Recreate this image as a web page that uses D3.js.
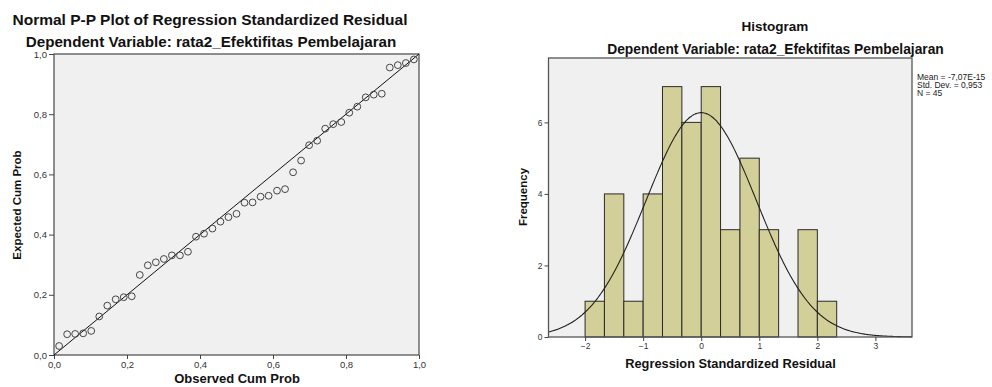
<!DOCTYPE html>
<html>
<head>
<meta charset="utf-8">
<script src="https://cdn.jsdelivr.net/npm/d3@7"></script>
<style>
  html, body { margin: 0; padding: 0; background: #fff; }
  svg { display: block; font-family: "Liberation Sans", Arial, sans-serif; }
  .tick text { fill: #333; }
  .tick line { stroke: #444; }
</style>
</head>
<body>
<svg id="chart" width="992" height="387"></svg>
<script>
// P-P plot: observed vs expected cumulative probability
const observedCumProb = [0.014, 0.036, 0.058, 0.080, 0.102, 0.124, 0.146, 0.169, 0.191, 0.213,
  0.235, 0.257, 0.279, 0.301, 0.323, 0.345, 0.367, 0.389, 0.411, 0.434, 0.456, 0.478, 0.500,
  0.522, 0.544, 0.566, 0.588, 0.611, 0.633, 0.655, 0.677, 0.699, 0.721, 0.743, 0.765, 0.787,
  0.809, 0.831, 0.854, 0.876, 0.898, 0.920, 0.942, 0.964, 0.986];
const expectedCumProb = [0.030, 0.069, 0.070, 0.072, 0.080, 0.128, 0.164, 0.185, 0.192, 0.195,
  0.266, 0.298, 0.308, 0.319, 0.331, 0.331, 0.343, 0.393, 0.403, 0.420, 0.443, 0.458, 0.469,
  0.506, 0.507, 0.526, 0.529, 0.546, 0.551, 0.607, 0.646, 0.697, 0.712, 0.752, 0.767, 0.774,
  0.805, 0.825, 0.856, 0.865, 0.868, 0.955, 0.963, 0.970, 0.982];
const ppTicks = [0, 0.2, 0.4, 0.6, 0.8, 1.0];

// Histogram of standardized residuals
const binLower = [-2.000, -1.667, -1.333, -1.000, -0.667, -0.333, 0.000, 0.333, 0.667, 1.000, 1.333, 1.667, 2.000];
const binUpper = [-1.667, -1.333, -1.000, -0.667, -0.333, 0.000, 0.333, 0.667, 1.000, 1.333, 1.667, 2.000, 2.333];
const binCount = [1, 4, 1, 4, 7, 6, 7, 3, 5, 3, 0, 3, 1];
const histXTicks = [-2, -1, 0, 1, 2, 3];
const histYTicks = [0, 2, 4, 6];
const residMean = -7.07e-15;
const residSD = 0.953;
const residN = 45;
const statLines = ["Mean = -7,07E-15", "Std. Dev. = 0,953", "N = 45"];

const svg = d3.select("#chart");
const comma = f => v => d3.format(f)(v).replace(".", ",");

// ---------- left: P-P plot ----------
const ppX = d3.scaleLinear().domain([0, 1]).range([54, 419]);
const ppY = d3.scaleLinear().domain([0, 1]).range([355, 54]);

svg.append("rect")
  .attr("x", ppX(0)).attr("y", ppY(1))
  .attr("width", ppX(1) - ppX(0)).attr("height", ppY(0) - ppY(1))
  .attr("fill", "#f0f0f0").attr("stroke", "#555").attr("stroke-width", 1.3);

svg.append("g")
  .attr("transform", `translate(0,${ppY(0)})`)
  .call(d3.axisBottom(ppX).tickValues(ppTicks).tickSize(4).tickPadding(2).tickFormat(comma(".1f")))
  .call(g => g.select(".domain").remove())
  .selectAll("text").style("font-size", "9.5px");

svg.append("g")
  .attr("transform", `translate(${ppX(0)},0)`)
  .call(d3.axisLeft(ppY).tickValues(ppTicks).tickSize(5).tickPadding(2).tickFormat(comma(".1f")))
  .call(g => g.select(".domain").remove())
  .selectAll("text").style("font-size", "9.5px");

svg.append("line")
  .attr("x1", ppX(0)).attr("y1", ppY(0))
  .attr("x2", ppX(1)).attr("y2", ppY(1))
  .attr("stroke", "#111").attr("stroke-width", 1);

svg.append("g").selectAll("circle")
  .data(observedCumProb.map((o, i) => [o, expectedCumProb[i]]))
  .join("circle")
  .attr("cx", d => ppX(d[0])).attr("cy", d => ppY(d[1]))
  .attr("r", 3.4)
  .attr("fill", "none").attr("stroke", "#444").attr("stroke-width", 1);

svg.append("text").attr("x", 210).attr("y", 25)
  .attr("text-anchor", "middle").attr("font-weight", "bold").attr("font-size", 15.5)
  .attr("fill", "#111").text("Normal P-P Plot of Regression Standardized Residual");
svg.append("text").attr("x", 211).attr("y", 47)
  .attr("text-anchor", "middle").attr("font-weight", "bold").attr("font-size", 15.2)
  .attr("fill", "#111").text("Dependent Variable: rata2_Efektifitas Pembelajaran");
svg.append("text").attr("x", 237).attr("y", 383)
  .attr("text-anchor", "middle").attr("font-weight", "bold").attr("font-size", 13)
  .attr("fill", "#111").text("Observed Cum Prob");
svg.append("text").attr("transform", "translate(21,205) rotate(-90)")
  .attr("text-anchor", "middle").attr("font-weight", "bold").attr("font-size", 11.5)
  .attr("fill", "#111").text("Expected Cum Prob");

// ---------- right: histogram ----------
const hX = d3.scaleLinear().domain([-2.63, 3.63]).range([548.5, 912]);
const hY = d3.scaleLinear().domain([0, 7.8]).range([337, 58]);

svg.append("rect")
  .attr("x", hX.range()[0]).attr("y", hY.range()[1])
  .attr("width", hX.range()[1] - hX.range()[0]).attr("height", hY.range()[0] - hY.range()[1])
  .attr("fill", "#f0f0f0");

svg.append("g").selectAll("rect")
  .data(binCount.map((c, i) => ({ lo: binLower[i], hi: binUpper[i], c })).filter(d => d.c > 0))
  .join("rect")
  .attr("x", d => hX(d.lo)).attr("y", d => hY(d.c))
  .attr("width", d => hX(d.hi) - hX(d.lo)).attr("height", d => hY(0) - hY(d.c))
  .attr("fill", "#d3cf98").attr("stroke", "#2a2a2a").attr("stroke-width", 1);

const binW = binUpper[0] - binLower[0];
const curvePts = d3.range(hX.domain()[0], hX.domain()[1] + 0.001, 0.02).map(x => {
  const z = (x - residMean) / residSD;
  return [x, residN * binW * Math.exp(-0.5 * z * z) / (residSD * Math.sqrt(2 * Math.PI))];
});
svg.append("path")
  .datum(curvePts)
  .attr("d", d3.line().x(d => hX(d[0])).y(d => hY(d[1])).curve(d3.curveBasis))
  .attr("fill", "none").attr("stroke", "#222").attr("stroke-width", 1.1);

svg.append("rect")
  .attr("x", hX.range()[0]).attr("y", hY.range()[1])
  .attr("width", hX.range()[1] - hX.range()[0]).attr("height", hY.range()[0] - hY.range()[1])
  .attr("fill", "none").attr("stroke", "#555").attr("stroke-width", 1.3);

svg.append("g")
  .attr("transform", `translate(0,${hY(0)})`)
  .call(d3.axisBottom(hX).tickValues(histXTicks).tickSize(4).tickPadding(2).tickFormat(d3.format("d")))
  .call(g => g.select(".domain").remove())
  .selectAll("text").style("font-size", "8.5px");

svg.append("g")
  .attr("transform", `translate(${hX.range()[0]},0)`)
  .call(d3.axisLeft(hY).tickValues(histYTicks).tickSize(4).tickPadding(2).tickFormat(d3.format("d")))
  .call(g => g.select(".domain").remove())
  .selectAll("text").style("font-size", "8.5px");

svg.append("text").attr("x", 775).attr("y", 31)
  .attr("text-anchor", "middle").attr("font-weight", "bold").attr("font-size", 13.5)
  .attr("fill", "#111").text("Histogram");
svg.append("text").attr("x", 775.5).attr("y", 54)
  .attr("text-anchor", "middle").attr("font-weight", "bold").attr("font-size", 13.8)
  .attr("fill", "#111").text("Dependent Variable: rata2_Efektifitas Pembelajaran");
svg.append("text").attr("x", 730.5).attr("y", 368)
  .attr("text-anchor", "middle").attr("font-weight", "bold").attr("font-size", 12.8)
  .attr("fill", "#111").text("Regression Standardized Residual");
svg.append("text").attr("transform", "translate(527,197) rotate(-90)")
  .attr("text-anchor", "middle").attr("font-weight", "bold").attr("font-size", 11.5)
  .attr("fill", "#111").text("Frequency");

svg.append("g").selectAll("text")
  .data(statLines)
  .join("text")
  .attr("x", 917).attr("y", (d, i) => 80 + i * 8.2)
  .attr("font-size", 8.5).attr("fill", "#222")
  .text(d => d);
</script>
</body>
</html>
